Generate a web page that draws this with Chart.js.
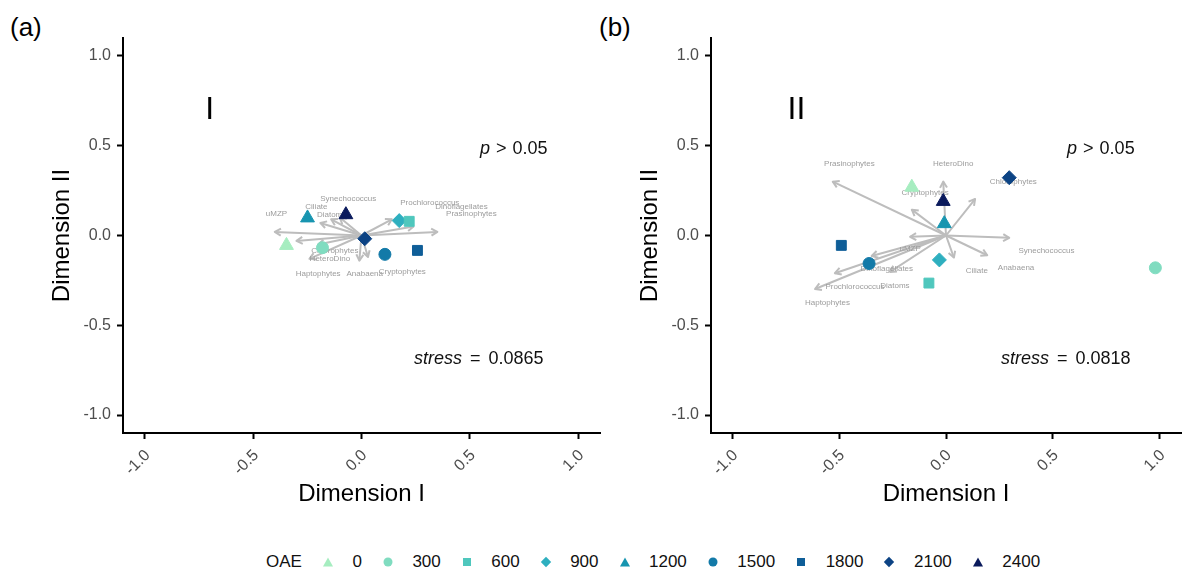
<!DOCTYPE html>
<html lang="en">
<head>
<meta charset="UTF-8">
<title>NMDS OAE</title>
<script src="https://cdn.jsdelivr.net/npm/chart.js"></script>
<style>
  body { margin:0; background:#fff; width:1182px; height:573px; overflow:hidden; position:relative; font-family:'Liberation Sans', Arial, Helvetica, sans-serif; }
  canvas { position:absolute; top:0; }
  #chartA { left:0; }
  #chartB { left:590px; }
  .tag { position:absolute; font-size:26px; color:#000; line-height:30px; }
  #legend { position:absolute; left:266px; top:551px; display:flex; align-items:center; font-size:17px; height:22px; color:#111; }
  #legend svg { display:block; }
</style>
</head>
<body>
<div class="tag" style="left:10px;top:12px">(a)</div>
<div class="tag" style="left:599px;top:12px">(b)</div>
<canvas id="chartA" width="610" height="520"></canvas>
<canvas id="chartB" width="600" height="520"></canvas>
<div id="legend"></div>
<script>
const FONT = "'Liberation Sans', Arial, Helvetica, sans-serif";

// categories
const oaeLevels = ['0', '300', '600', '900', '1200', '1500', '1800', '2100', '2400'];
const oaeColors = ['#a6edc0', '#80dcc0', '#4fc7bd', '#2eafbf', '#1795b0', '#137aa8', '#0f5e98', '#0c4384', '#0a1a5c'];
const oaeShapes = ['triangle', 'circle', 'rect', 'rectRot', 'triangle', 'circle', 'rect', 'rectRot', 'triangle'];
const taxa = ['Synechococcus', 'Prochlorococcus', 'Dinoflagellates', 'Prasinophytes', 'Chlorophytes', 'Cryptophytes',
              'Anabaena', 'Haptophytes', 'HeteroDino', 'Diatoms', 'Ciliate', 'uMZP'];
const axisTicks = [-1.0, -0.5, 0.0, 0.5, 1.0];

// panel (a) - site scores per OAE level
const aSiteX = [-0.346, -0.180, 0.220, 0.174, -0.249, 0.108, 0.258, 0.015, -0.072];
const aSiteY = [-0.055, -0.068, 0.079, 0.083, 0.098, -0.105, -0.083, -0.018, 0.116];
// panel (a) - taxa vectors (arrow tips) and label spots
const aVecX = [-0.10, 0.14, 0.24, 0.35, -0.20, 0.03, -0.01, -0.30, -0.24, -0.14, -0.19, -0.40];
const aVecY = [0.10, 0.09, 0.05, 0.02, -0.05, -0.12, -0.14, -0.03, -0.13, 0.09, 0.07, 0.02];
const aLabX = [-0.061, 0.315, 0.461, 0.507, -0.123, 0.188, 0.015, -0.200, -0.146, -0.138, -0.208, -0.392];
const aLabY = [0.204, 0.184, 0.162, 0.121, -0.087, -0.203, -0.215, -0.215, -0.129, 0.116, 0.162, 0.120];
const aStress = '0.0865';

// panel (b)
const bSiteX = [-0.160, 0.980, -0.080, -0.031, -0.008, -0.360, -0.490, 0.296, -0.013];
const bSiteY = [0.269, -0.180, -0.265, -0.136, 0.066, -0.156, -0.055, 0.322, 0.190];
const bVecX = [0.296, -0.520, -0.348, -0.530, 0.136, -0.160, 0.193, -0.613, -0.013, -0.262, 0.037, -0.168];
const bVecY = [-0.013, -0.210, -0.114, 0.300, 0.203, 0.144, -0.110, -0.298, 0.300, -0.203, -0.123, -0.007];
const bLabX = [0.470, -0.426, -0.277, -0.452, 0.315, -0.098, 0.328, -0.555, 0.034, -0.239, 0.144, -0.168];
const bLabY = [-0.083, -0.286, -0.188, 0.402, 0.300, 0.239, -0.178, -0.376, 0.402, -0.280, -0.197, -0.072];
const bStress = '0.0818';

const pointRadius = { triangle: 8, circle: 6, rect: 7, rectRot: 7 };
const ARROW_GREY = '#bdbdbd';

function buildDatasets(siteX, siteY, vecX, vecY, labX, labY) {
  const sets = [];
  oaeLevels.forEach((lv, i) => {
    sets.push({
      label: lv, kind: 'site', order: 0,
      data: [{ x: siteX[i], y: siteY[i] }],
      pointStyle: oaeShapes[i], pointRadius: pointRadius[oaeShapes[i]],
      backgroundColor: oaeColors[i], borderColor: oaeColors[i], borderWidth: 1
    });
  });
  sets.push({
    label: 'taxa', kind: 'label', order: 1, names: taxa,
    data: taxa.map((t, i) => ({ x: labX[i], y: labY[i] })),
    pointRadius: 0
  });
  taxa.forEach((t, i) => {
    sets.push({
      label: t, kind: 'arrow', order: 2,
      data: [{ x: 0, y: 0 }, { x: vecX[i], y: vecY[i] }],
      showLine: true, pointRadius: 0, borderColor: ARROW_GREY, borderWidth: 2
    });
  });
  return sets;
}

// right-aligned plotmath-like text: italic symbol, operator, number
function drawMath(ctx, parts, xRight, y, size) {
  const widths = parts.map(p => {
    if (p.gap) return p.gap;
    ctx.font = (p.it ? 'italic ' : '') + size + 'px ' + FONT;
    return ctx.measureText(p.t).width;
  });
  let x = xRight - widths.reduce((a, b) => a + b, 0);
  parts.forEach((p, i) => {
    if (!p.gap) {
      ctx.font = (p.it ? 'italic ' : '') + size + 'px ' + FONT;
      ctx.fillText(p.t, x, y);
    }
    x += widths[i];
  });
}

const overlay = {
  id: 'overlay',
  afterDatasetDraw(chart, args) {
    const ds = chart.data.datasets[args.index];
    const ctx = chart.ctx;
    if (ds.kind === 'arrow') {
      const p0 = args.meta.data[0], p1 = args.meta.data[1];
      const ang = Math.atan2(p1.y - p0.y, p1.x - p0.x);
      const L = 7;
      ctx.save();
      ctx.strokeStyle = ARROW_GREY;
      ctx.lineWidth = 2;
      ctx.lineJoin = 'round';
      ctx.beginPath();
      ctx.moveTo(p1.x - L * Math.cos(ang - Math.PI / 6), p1.y - L * Math.sin(ang - Math.PI / 6));
      ctx.lineTo(p1.x, p1.y);
      ctx.lineTo(p1.x - L * Math.cos(ang + Math.PI / 6), p1.y - L * Math.sin(ang + Math.PI / 6));
      ctx.stroke();
      ctx.restore();
    } else if (ds.kind === 'label') {
      ctx.save();
      ctx.font = '8px ' + FONT;
      ctx.fillStyle = '#9c9c9c';
      ctx.textAlign = 'center';
      ctx.textBaseline = 'middle';
      args.meta.data.forEach((el, i) => ctx.fillText(ds.names[i], el.x, el.y));
      ctx.restore();
    }
  },
  afterDraw(chart, args, opts) {
    const ctx = chart.ctx;
    const sx = chart.scales.x, sy = chart.scales.y;
    ctx.save();
    ctx.fillStyle = '#000';
    ctx.textBaseline = 'middle';
    ctx.textAlign = 'center';
    ctx.font = '32px ' + FONT;
    ctx.fillText(opts.tag, sx.getPixelForValue(-0.70), sy.getPixelForValue(0.70));
    ctx.textAlign = 'left';
    ctx.fillStyle = '#111';
    drawMath(ctx, [{ t: 'p', it: true }, { gap: 1 }, { t: ' > ' }, { gap: 1 }, { t: '0.05' }],
      sx.getPixelForValue(opts.pX), sy.getPixelForValue(0.48), 18);
    drawMath(ctx, [{ t: 'stress', it: true }, { gap: 3 }, { t: ' = ' }, { gap: 3 }, { t: opts.stress }],
      sx.getPixelForValue(opts.sX), sy.getPixelForValue(-0.69), 18);
    ctx.restore();
  }
};

function makeScales(yWidth, yTitlePad) {
  const grid = { drawOnChartArea: false, drawTicks: true, tickLength: 6, tickColor: '#000', tickWidth: 2, color: '#000' };
  const border = { display: true, color: '#000', width: 2 };
  return {
    x: {
      type: 'linear', min: -1.1, max: 1.1,
      afterBuildTicks: s => { s.ticks = axisTicks.map(v => ({ value: v })); },
      afterFit: s => { s.height = 87; },
      ticks: {
        callback: v => v.toFixed(1), minRotation: 45, maxRotation: 45, autoSkip: false,
        labelOffset: 3, padding: 7, color: '#4d4d4d', font: { size: 16, family: FONT }
      },
      grid: grid, border: border,
      title: { display: true, text: 'Dimension I', color: '#000', font: { size: 24, family: FONT }, padding: { top: 0, bottom: 11 } }
    },
    y: {
      type: 'linear', min: -1.1, max: 1.1,
      afterBuildTicks: s => { s.ticks = axisTicks.map(v => ({ value: v })); },
      afterFit: s => { s.width = yWidth; },
      ticks: { callback: v => v.toFixed(1), padding: 6, color: '#4d4d4d', font: { size: 16, family: FONT } },
      grid: grid, border: border,
      title: { display: true, text: 'Dimension II', color: '#000', font: { size: 24, family: FONT }, padding: { top: yTitlePad, bottom: 0 } }
    }
  };
}

function makeChart(id, datasets, yWidth, yTitlePad, padRight, ann) {
  return new Chart(document.getElementById(id), {
    type: 'scatter',
    data: { datasets: datasets },
    options: {
      responsive: false, animation: false, devicePixelRatio: 1,
      layout: { padding: { left: 0, top: 38, right: padRight, bottom: 0 } },
      scales: makeScales(yWidth, yTitlePad),
      plugins: { legend: { display: false }, tooltip: { enabled: false }, overlay: ann }
    },
    plugins: [overlay]
  });
}

makeChart('chartA', buildDatasets(aSiteX, aSiteY, aVecX, aVecY, aLabX, aLabY), 123, 47.6, 10,
  { tag: 'I', pX: 0.858, stress: aStress, sX: 0.84 });
makeChart('chartB', buildDatasets(bSiteX, bSiteY, bVecX, bVecY, bLabX, bLabY), 121, 45.6, 9,
  { tag: 'II', pX: 0.883, stress: bStress, sX: 0.864 });

// legend
const shapeSvg = {
  triangle: c => `<polygon points="6,1.5 11,10.5 1,10.5" fill="${c}"/>`,
  circle: c => `<circle cx="6" cy="6" r="4.5" fill="${c}"/>`,
  rect: c => `<rect x="2" y="2" width="8" height="8" fill="${c}"/>`,
  rectRot: c => `<polygon points="6,0.8 11.2,6 6,11.2 0.8,6" fill="${c}"/>`
};
let html = '<span>OAE</span>';
oaeLevels.forEach((lv, i) => {
  html += `<svg width="12" height="12" style="margin-left:20px">${shapeSvg[oaeShapes[i]](oaeColors[i])}</svg>`;
  html += `<span style="margin-left:18.5px">${lv}</span>`;
});
document.getElementById('legend').innerHTML = html;
</script>
</body>
</html>
